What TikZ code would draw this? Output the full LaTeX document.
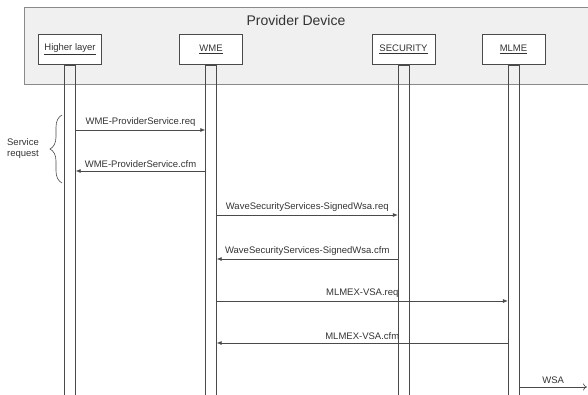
\documentclass[tikz,border=0pt]{standalone}
\usepackage{fontspec}
\setmainfont{Liberation Sans}
\usetikzlibrary{positioning,arrows.meta,decorations.pathreplacing}
\definecolor{linegray}{HTML}{4A4A4A}
\definecolor{framegray}{HTML}{8A8A8A}
\definecolor{panelgray}{HTML}{F0F0F0}
\begin{document}
\begin{tikzpicture}[x=1pt,y=-1pt,on grid,auto,
    font=\fontsize{9.5}{11}\selectfont,text=black!80,
    objbox/.style={draw=linegray,fill=white,minimum width=63pt,minimum height=30pt,inner sep=1pt},
    lifebar/.style={draw=linegray,minimum width=11pt,minimum height=335pt,inner sep=0pt,anchor=north},
    msg/.style={draw=linegray,line width=0.6pt,-{Latex[length=5pt,width=4pt]}},
    msgopen/.style={draw=linegray,line width=0.6pt,-{To[length=4pt,width=7pt]}}] 
   \useasboundingbox (0,0) rectangle (588,394);
   \path[fill=panelgray] (24,7) rectangle (589,84);
   \draw[framegray,line width=0.8pt] (589,7) -- (24,7) -- (24,84) -- (589,84);
   \node (title) at (296,20) {\fontsize{14}{16}\selectfont Provider Device};
   \node[objbox] (hl) at (70,49.5) {\underline{Higher layer}}; 
   \node[objbox] (wme) [right=141pt of hl] {\underline{WME}};
   \node[objbox] (sec) [right=192.5pt of wme] {\underline{SECURITY}}; 
   \node[objbox] (mlme) [right=110pt of sec] {\underline{MLME}}; 
   \node[lifebar] (hlbar) at (hl.south) {};
   \node[lifebar] (wmebar) at (wme.south) {};
   \node[lifebar] (secbar) at (sec.south) {};
   \node[lifebar] (mlmebar) at (mlme.south) {};
   \coordinate (wsaend) at (587,387);
   \coordinate (bracebot) at (62,183);
   \coordinate (bracetop) at (62,115);
   \draw[msg] (hlbar.east |- 0,130) -- node {WME-ProviderService.req} (wmebar.west |- 0,130);
   \draw[msg] (wmebar.west |- 0,171) -- node [swap] {WME-ProviderService.cfm} (hlbar.east |- 0,171);
   \draw[msg] (wmebar.east |- 0,215) -- node {WaveSecurityServices-SignedWsa.req} (secbar.west |- 0,215);
   \draw[msg] (secbar.west |- 0,259) -- node [swap] {WaveSecurityServices-SignedWsa.cfm} (wmebar.east |- 0,259);
   \draw[msg] (wmebar.east |- 0,301) -- node {MLMEX-VSA.req} (mlmebar.west |- 0,301);
   \draw[msg] (mlmebar.west |- 0,343) -- node [swap] {MLMEX-VSA.cfm} (wmebar.east |- 0,343);
   \draw[msgopen] (mlmebar.east |- wsaend) -- node {WSA} (wsaend);
   \draw[linegray,line width=0.6pt,decorate,decoration={brace,amplitude=12pt}] (bracebot) -- (bracetop);
   \node[align=center] (svcreq) at (23,149) {Service\\request};
\end{tikzpicture}
\end{document}
